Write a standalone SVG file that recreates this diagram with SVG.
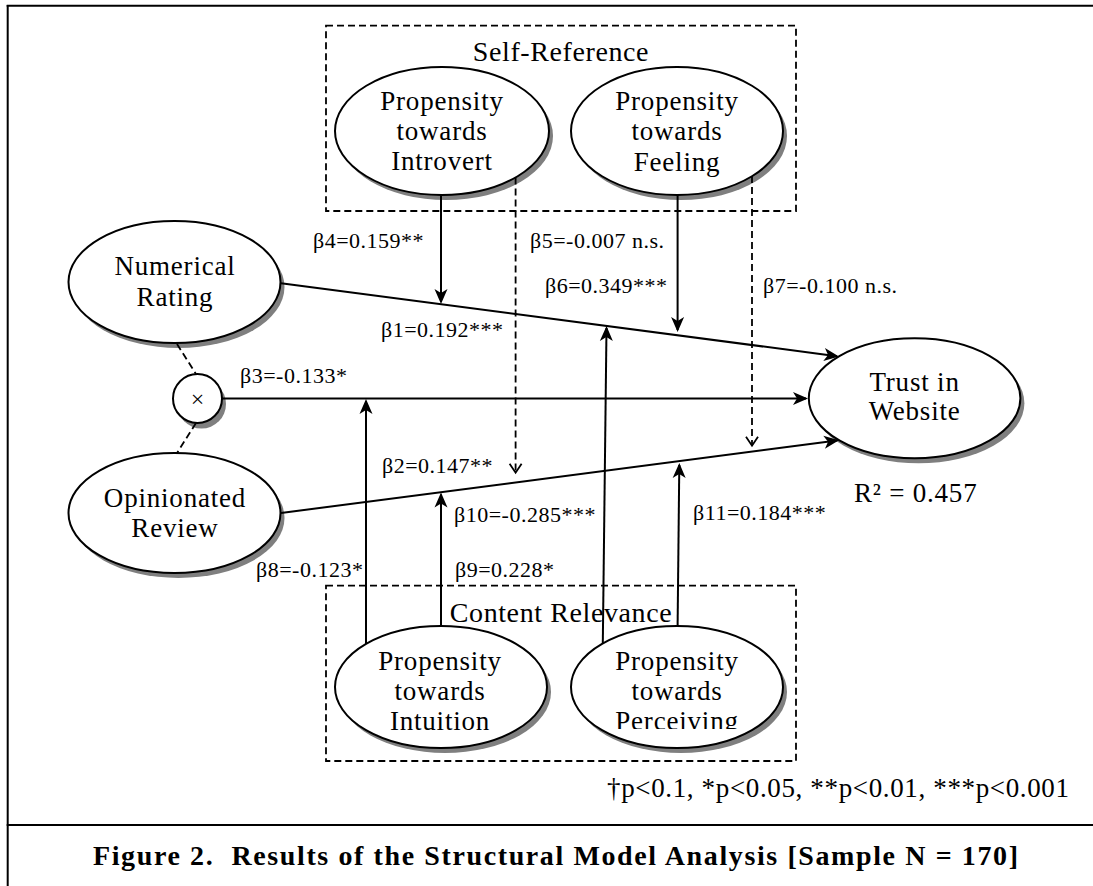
<svg xmlns="http://www.w3.org/2000/svg" width="1093" height="886" viewBox="0 0 1093 886">
<style>
  .frame{stroke:#000;stroke-width:2;fill:none}
  .box{stroke:#000;stroke-width:1.8;fill:none;stroke-dasharray:7,4}
  .shadow{fill:#7f7f7f;stroke:none}
  .shape{fill:#fff;stroke:#000;stroke-width:2}
  .lbl{font-family:"Liberation Serif","Times New Roman",serif;font-size:27px;letter-spacing:0.8px;text-anchor:middle;fill:#000}
  .grp{font-family:"Liberation Serif","Times New Roman",serif;font-size:28px;letter-spacing:0.6px;text-anchor:middle;fill:#000}
  .beta{font-family:"Liberation Serif","Times New Roman",serif;font-size:22px;letter-spacing:0.5px;fill:#000}
  .solid{stroke:#000;stroke-width:2;fill:none}
  .dash{stroke:#000;stroke-width:1.8;fill:none;stroke-dasharray:7,4}
  .note{font-family:"Liberation Serif","Times New Roman",serif;font-size:27px;fill:#000}
  .cap{font-family:"Liberation Serif","Times New Roman",serif;font-size:28px;font-weight:bold;fill:#000}
</style>
<defs>
  <marker id="arr" markerUnits="userSpaceOnUse" viewBox="-14 -8 17 16" markerWidth="17" markerHeight="16" refX="0" refY="0" orient="auto">
    <path d="M2,0 L-13,-6.5 L-9,0 L-13,6.5 Z" fill="#000"/>
  </marker>
  <marker id="vee" markerUnits="userSpaceOnUse" viewBox="-11 -8 13 16" markerWidth="13" markerHeight="16" refX="0" refY="0" orient="auto">
    <path d="M-9,-6 L0,0 L-9,6" fill="none" stroke="#000" stroke-width="1.8"/>
  </marker>
  <clipPath id="percClip"><rect x="560" y="600" width="240" height="129"/></clipPath>
</defs>

<g id="frame">
  <line class="frame" x1="7.7" y1="5" x2="7.7" y2="886"/>
  <line class="frame" x1="6.7" y1="5.7" x2="1093" y2="5.7"/>
  <line class="frame" x1="6.7" y1="825" x2="1093" y2="825"/>
</g>

<g id="self-reference">
  <rect class="box" x="326" y="25.7" width="470" height="185.3"/>
  <text class="grp" x="561" y="61">Self-Reference</text>
</g>
<g id="content-relevance">
  <rect class="box" x="326" y="585.7" width="470" height="175.3"/>
  <text class="grp" x="561" y="622">Content Relevance</text>
</g>

<g id="introvert">
  <ellipse class="shadow" cx="446" cy="136" rx="107" ry="64"/>
  <ellipse class="shape" cx="442" cy="131" rx="107" ry="64"/>
  <text class="lbl" x="442" y="110">Propensity</text>
  <text class="lbl" x="442" y="140">towards</text>
  <text class="lbl" x="442" y="170">Introvert</text>
</g>
<g id="feeling">
  <ellipse class="shadow" cx="681" cy="136" rx="106" ry="64"/>
  <ellipse class="shape" cx="677" cy="131" rx="106" ry="64"/>
  <text class="lbl" x="677" y="110">Propensity</text>
  <text class="lbl" x="677" y="140">towards</text>
  <text class="lbl" x="677" y="171">Feeling</text>
</g>
<g id="numerical-rating">
  <ellipse class="shadow" cx="178.5" cy="287" rx="106" ry="61"/>
  <ellipse class="shape" cx="174.5" cy="282" rx="106" ry="61"/>
  <text class="lbl" x="175" y="275">Numerical</text>
  <text class="lbl" x="175" y="306">Rating</text>
</g>
<g id="interaction">
  <circle class="shadow" cx="201.5" cy="404" r="24.5"/>
  <circle class="shape" cx="197.5" cy="398.5" r="24.5"/>
  <text class="lbl" x="197.5" y="407" style="font-size:24px;letter-spacing:0">×</text>
</g>
<g id="opinionated-review">
  <ellipse class="shadow" cx="178.5" cy="518" rx="106" ry="60"/>
  <ellipse class="shape" cx="174.5" cy="513" rx="106" ry="60"/>
  <text class="lbl" x="175" y="507">Opinionated</text>
  <text class="lbl" x="175" y="537">Review</text>
</g>
<g id="trust-in-website">
  <ellipse class="shadow" cx="918.6" cy="403.3" rx="105.8" ry="60"/>
  <ellipse class="shape" cx="914.6" cy="398.3" rx="105.8" ry="60"/>
  <text class="lbl" x="914.6" y="391">Trust in</text>
  <text class="lbl" x="914.6" y="420">Website</text>
</g>
<g id="intuition">
  <ellipse class="shadow" cx="445" cy="692" rx="106" ry="61"/>
  <ellipse class="shape" cx="441" cy="687" rx="106" ry="61"/>
  <text class="lbl" x="440" y="670">Propensity</text>
  <text class="lbl" x="440" y="700">towards</text>
  <text class="lbl" x="440" y="730">Intuition</text>
</g>
<g id="perceiving">
  <ellipse class="shadow" cx="681" cy="692" rx="106" ry="61"/>
  <ellipse class="shape" cx="677" cy="687" rx="106" ry="61"/>
  <text class="lbl" x="677" y="670">Propensity</text>
  <text class="lbl" x="677" y="700">towards</text>
  <text class="lbl" x="677" y="730" clip-path="url(#percClip)">Perceiving</text>
</g>

<g id="connectors">
  <line class="solid" x1="281" y1="283.3" x2="837" y2="356.2" marker-end="url(#arr)"/>
  <line class="solid" x1="222" y1="398.5" x2="806" y2="398.5" marker-end="url(#arr)"/>
  <line class="solid" x1="281" y1="513" x2="837" y2="440.6" marker-end="url(#arr)"/>
  <line class="dash" x1="177" y1="344" x2="196" y2="374"/>
  <line class="dash" x1="196" y1="423" x2="177" y2="453"/>
  <line class="solid" x1="441" y1="195" x2="441" y2="302" marker-end="url(#arr)"/>
  <line class="dash" x1="515.6" y1="177.5" x2="515.6" y2="472.7" marker-end="url(#vee)"/>
  <line class="solid" x1="677.6" y1="195" x2="677.6" y2="330" marker-end="url(#arr)"/>
  <line class="dash" x1="752" y1="176" x2="752" y2="445.7" marker-end="url(#vee)"/>
  <line class="solid" x1="366" y1="644" x2="366" y2="401" marker-end="url(#arr)"/>
  <line class="solid" x1="441" y1="626" x2="441" y2="494.5" marker-end="url(#arr)"/>
  <line class="solid" x1="602.8" y1="643.4" x2="606.5" y2="328" marker-end="url(#arr)"/>
  <line class="solid" x1="677.6" y1="626" x2="679.3" y2="465" marker-end="url(#arr)"/>
</g>

<g id="edge-labels">
  <text class="beta" x="313" y="248">β4=0.159**</text>
  <text class="beta" x="530" y="248">β5=-0.007 n.s.</text>
  <text class="beta" x="545" y="293">β6=0.349***</text>
  <text class="beta" x="763" y="293">β7=-0.100 n.s.</text>
  <text class="beta" x="381" y="337">β1=0.192***</text>
  <text class="beta" x="240" y="383">β3=-0.133*</text>
  <text class="beta" x="382" y="473">β2=0.147**</text>
  <text class="beta" x="454" y="522">β10=-0.285***</text>
  <text class="beta" x="693" y="520">β11=0.184***</text>
  <text class="beta" x="256" y="577">β8=-0.123*</text>
  <text class="beta" x="455" y="577">β9=0.228*</text>
  <text class="lbl" x="915.7" y="502">R² = 0.457</text>
</g>

<text class="note" x="607" y="797" textLength="462" lengthAdjust="spacing">†p&lt;0.1, *p&lt;0.05, **p&lt;0.01, ***p&lt;0.001</text>
<text class="cap" x="93" y="865" textLength="925" lengthAdjust="spacing" xml:space="preserve">Figure 2.  Results of the Structural Model Analysis [Sample N = 170]</text>
</svg>
